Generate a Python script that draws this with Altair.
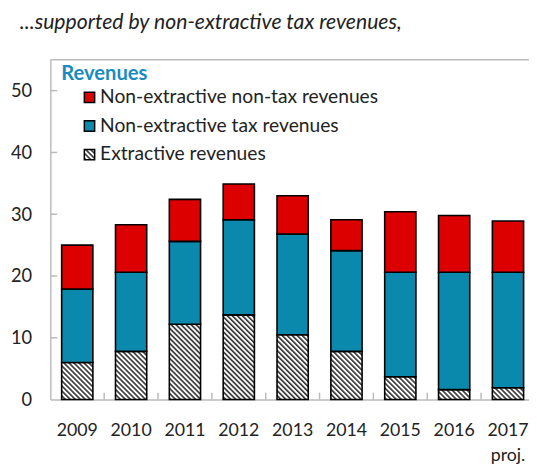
import altair as alt
import pandas as pd
import altair.utils.html as _html

# ---------------- data ----------------
years = ["2009", "2010", "2011", "2012", "2013", "2014", "2015", "2016", "2017"]
extractive = [6.0, 7.8, 12.2, 13.7, 10.5, 7.8, 3.7, 1.6, 1.9]
tax = [11.9, 12.8, 13.4, 15.4, 16.3, 16.3, 16.9, 19.0, 18.7]
nontax = [7.1, 7.7, 6.8, 5.8, 6.2, 5.0, 9.8, 9.2, 8.3]
series = ["Non-extractive non-tax revenues", "Non-extractive tax revenues", "Extractive revenues"]
y_tick_values = [0, 10, 20, 30, 40, 50]
y_max = 55
chart_title = "...supported by non-extractive tax revenues,"
legend_title = "Revenues"

# ---------------- hatch pattern for the extractive series ----------------
HATCH_DEFS = (
    '<svg width="0" height="0" style="position:absolute">'
    '<defs><pattern id="hatch" patternUnits="userSpaceOnUse" width="3.6" height="3.6" '
    'patternTransform="rotate(-45)">'
    '<rect width="3.6" height="3.6" fill="#ffffff"/>'
    '<rect width="1.7" height="3.6" fill="#3a3a3a"/>'
    '</pattern></defs></svg>'
)
_std_template = _html.TEMPLATES["standard"]


class _HatchTemplate:
    def render(self, **kw):
        page = _std_template.render(**kw)
        return page.replace("<body>", "<body>\n" + HATCH_DEFS, 1)


_html.TEMPLATES["standard"] = _HatchTemplate()

# ---------------- tables ----------------
rows = []
for i, yr in enumerate(years):
    rows.append({"year": yr, "series": series[2], "value": extractive[i], "ord": 0})
    rows.append({"year": yr, "series": series[1], "value": tax[i], "ord": 1})
    rows.append({"year": yr, "series": series[0], "value": nontax[i], "ord": 2})
bars_df = pd.DataFrame(rows)
years_df = pd.DataFrame({"year": years[1:]})
yticks_df = pd.DataFrame({"v": y_tick_values[1:]})
top_df = pd.DataFrame({"top": [y_max]})

W, H = 486, 345
FONT = "Lato"
TXT = "#222222"
GRAY = "#BBBBBB"

x_scale = alt.Scale(domain=years, range=[0, 492], paddingInner=0, paddingOuter=0)
y_scale = alt.Scale(domain=[0, y_max], nice=False)

x_axis = alt.Axis(
    title=None, labelFont=FONT, labelFontSize=18, labelColor=TXT, labelAngle=0,
    labelPadding=23, labelBaseline="top", labelLineHeight=25,
    labelExpr="datum.value == '2017' ? ['2017', 'proj.'] : datum.value",
    ticks=False, tickSize=0, domainColor=GRAY, domainWidth=1.5, grid=False,
)
y_axis = alt.Axis(
    title=None, values=y_tick_values, labelFont=FONT, labelFontSize=18.5, labelColor=TXT,
    labelPadding=19, ticks=False, tickSize=0, domainColor=GRAY, domainWidth=1.5, grid=False,
)

bars = alt.Chart(bars_df).mark_bar(
    stroke="black", strokeWidth=1.6, width=alt.RelativeBandSize(0.58)
).encode(
    x=alt.X("year:N", scale=x_scale, axis=x_axis, sort=years),
    y=alt.Y("value:Q", scale=y_scale, axis=y_axis, stack="zero"),
    color=alt.Color(
        "series:N",
        scale=alt.Scale(domain=series, range=["#DD0000", "#0A89AD", "url(#hatch)"]),
        legend=alt.Legend(
            orient="none", legendX=11, legendY=5, padding=0,
            title=legend_title, titleFont=FONT, titleFontSize=20.5, titleFontWeight="bold",
            titleColor="#1B8BBF", titlePadding=3,
            labelFont=FONT, labelFontSize=19.5, labelColor=TXT, labelLimit=400, labelOffset=1,
            symbolType="square", symbolSize=110, symbolStrokeColor="black",
            symbolStrokeWidth=1.5, symbolOffset=19, rowPadding=8,
        ),
    ),
    order=alt.Order("ord:Q"),
)

top_line = alt.Chart(top_df).mark_rule(color=GRAY, strokeWidth=1.5).encode(
    y=alt.Y("top:Q", scale=y_scale, axis=y_axis)
)

x_ticks = alt.Chart(years_df).mark_rule(color=GRAY, strokeWidth=1.5).encode(
    x=alt.X("year:N", scale=x_scale, axis=x_axis, bandPosition=0, sort=years),
    y=alt.value(H),
    y2=alt.value(H - 7),
)

y_ticks = alt.Chart(yticks_df).mark_rule(color=GRAY, strokeWidth=1.5).encode(
    y=alt.Y("v:Q", scale=y_scale, axis=y_axis),
    x=alt.value(0),
    x2=alt.value(7),
)

chart = alt.layer(bars, top_line, x_ticks, y_ticks).properties(
    width=W,
    height=H,
    autosize=alt.AutoSizeParams(type="none"),
    padding={"left": 43, "top": 49, "right": 0, "bottom": 69},
    title=alt.TitleParams(
        text=chart_title, font=FONT, fontSize=21.5, fontStyle="italic", fontWeight="normal",
        color=TXT, anchor="start", frame="group", dx=-31, offset=9, baseline="alphabetic",
    ),
).configure_view(strokeWidth=0)

chart.save("out.html", embed_options={"renderer": "svg", "actions": False})
